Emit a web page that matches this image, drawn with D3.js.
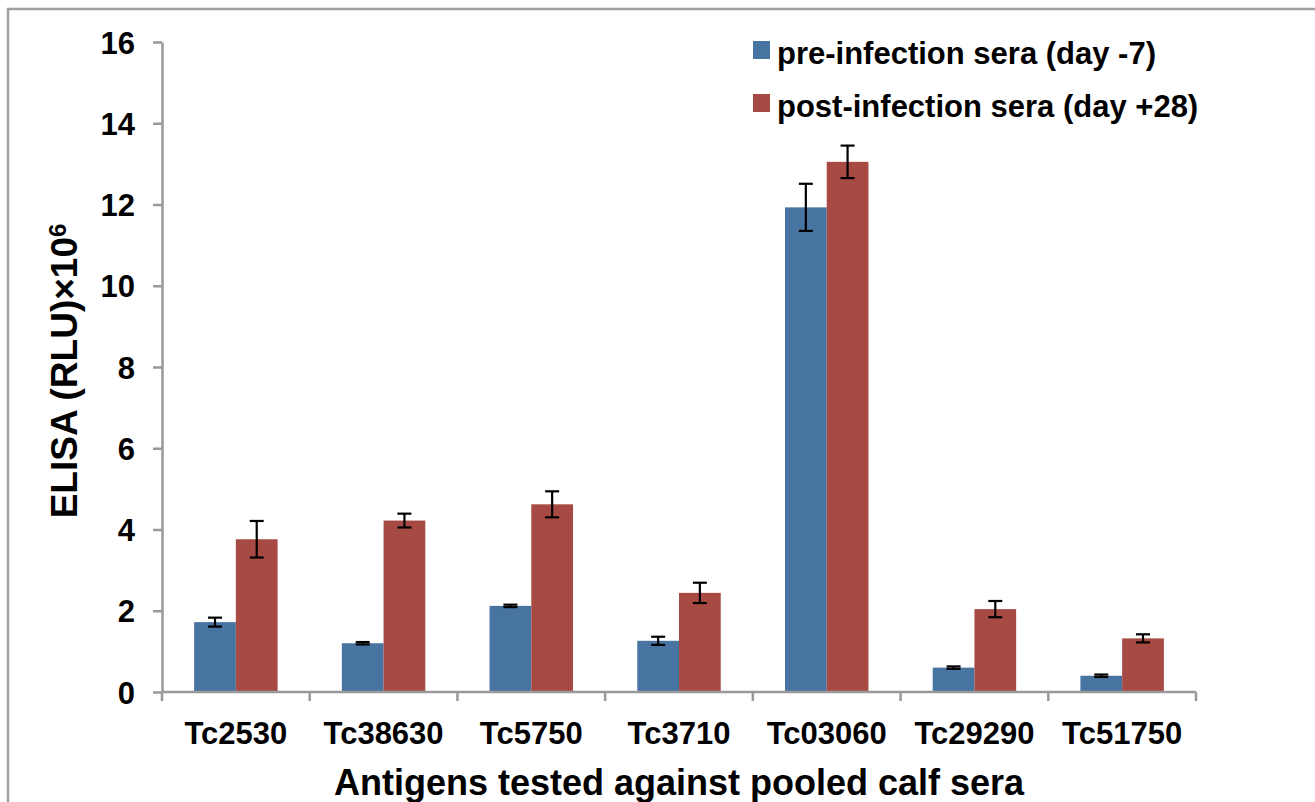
<!DOCTYPE html>
<html>
<head>
<meta charset="utf-8">
<script src="https://cdn.jsdelivr.net/npm/d3@7"></script>
<style>
  body { margin: 0; background: #fff; }
  text { font-family: "Liberation Sans", Arial, sans-serif; font-weight: bold; fill: #000; }
</style>
</head>
<body>
<div id="chart"></div>
<script>
// =======================
// Data
// =======================
const antigens = ["Tc2530", "Tc38630", "Tc5750", "Tc3710", "Tc03060", "Tc29290", "Tc51750"];
const preValues = [1.72, 1.20, 2.12, 1.26, 11.93, 0.60, 0.40];
const preErrors = [0.11, 0.03, 0.03, 0.10, 0.58, 0.03, 0.03];
const postValues = [3.76, 4.22, 4.62, 2.44, 13.05, 2.04, 1.32];
const postErrors = [0.45, 0.17, 0.32, 0.25, 0.40, 0.20, 0.10];
const seriesNames = ["pre-infection sera (day -7)", "post-infection sera (day +28)"];
const seriesColors = ["#4874a2", "#a84a44"];
const yTicks = [0, 2, 4, 6, 8, 10, 12, 14, 16];

// =======================
// Layout
// =======================
const width = 1315;
const height = 802;
const margin = { left: 162, right: 119, top: 42, bottom: 110 };

const svg = d3.select("#chart")
    .append("svg")
    .attr("width", width)
    .attr("height", height);

// outer frame
svg.append("rect")
    .attr("x", 8)
    .attr("y", 9)
    .attr("width", 1400)
    .attr("height", 900)
    .attr("fill", "none")
    .attr("stroke", "#a0a0a0")
    .attr("stroke-width", 2.5);

const x = d3.scaleBand()
    .domain(antigens)
    .range([margin.left, width - margin.right]);

const inner = d3.scaleBand()
    .domain([0, 1])
    .range([0, x.bandwidth()])
    .paddingInner(0)
    .paddingOuter(0.77);

const y = d3.scaleLinear()
    .domain([0, 16])
    .range([height - margin.bottom, margin.top]);

// =======================
// Bars + error bars
// =======================
const series = [
    { values: preValues, errors: preErrors },
    { values: postValues, errors: postErrors }
];

series.forEach((s, si) => {
    const g = svg.append("g");
    const rows = antigens.map((a, i) => ({ a, v: s.values[i], e: s.errors[i] }));

    g.selectAll("rect")
        .data(rows)
        .enter()
        .append("rect")
        .attr("x", d => x(d.a) + inner(si))
        .attr("y", d => y(d.v))
        .attr("width", inner.bandwidth())
        .attr("height", d => y(0) - y(d.v))
        .attr("fill", seriesColors[si]);
});

series.forEach((s, si) => {
    const g = svg.append("g").attr("stroke", "#000").attr("stroke-width", 2.2);
    antigens.forEach((a, i) => {
        const cx = x(a) + inner(si) + inner.bandwidth() / 2;
        const top = y(s.values[i] + s.errors[i]);
        const bot = y(s.values[i] - s.errors[i]);
        g.append("line").attr("x1", cx).attr("x2", cx).attr("y1", top).attr("y2", bot);
        g.append("line").attr("x1", cx - 7).attr("x2", cx + 7).attr("y1", top).attr("y2", top);
        g.append("line").attr("x1", cx - 7).attr("x2", cx + 7).attr("y1", bot).attr("y2", bot);
    });
});

// =======================
// Axes
// =======================
const yAxis = svg.append("g")
    .attr("transform", `translate(${margin.left},0)`)
    .call(d3.axisLeft(y).tickValues(yTicks).tickSize(9).tickPadding(18).tickSizeOuter(0));

yAxis.select(".domain").attr("stroke", "#999").attr("stroke-width", 2.5);
yAxis.selectAll(".tick line").attr("stroke", "#999").attr("stroke-width", 2.5);
yAxis.selectAll(".tick text").style("font-size", "31px").attr("dy", "0.36em");

const xAxisG = svg.append("g")
    .attr("transform", `translate(0,${y(0)})`);

xAxisG.append("line")
    .attr("x1", margin.left)
    .attr("x2", width - margin.right)
    .attr("stroke", "#999")
    .attr("stroke-width", 2.5);

const bounds = antigens.map(a => x(a)).concat([x(antigens[antigens.length - 1]) + x.bandwidth()]);
xAxisG.selectAll(".xtick")
    .data(bounds)
    .enter()
    .append("line")
    .attr("x1", d => d)
    .attr("x2", d => d)
    .attr("y1", 0)
    .attr("y2", 9)
    .attr("stroke", "#999")
    .attr("stroke-width", 2.5);

xAxisG.selectAll(".xlabel")
    .data(antigens)
    .enter()
    .append("text")
    .attr("x", d => x(d) + x.bandwidth() / 2)
    .attr("y", 52)
    .attr("text-anchor", "middle")
    .style("font-size", "31px")
    .text(d => d);

// axis titles
svg.append("text")
    .attr("x", (margin.left + width - margin.right) / 2)
    .attr("y", 795)
    .attr("text-anchor", "middle")
    .style("font-size", "36px")
    .text("Antigens tested against pooled calf sera");

const yTitle = svg.append("text")
    .attr("transform", `translate(77,${(y(0) + y(16)) / 2 + 4}) rotate(-90)`)
    .attr("text-anchor", "middle")
    .style("font-size", "37px");
yTitle.append("tspan").text("ELISA (RLU)×10");
yTitle.append("tspan").attr("dy", "-0.45em").style("font-size", "24px").text("6");

// =======================
// Legend
// =======================
const legend = svg.append("g").attr("transform", "translate(753,41)");
seriesNames.forEach((name, i) => {
    legend.append("rect")
        .attr("x", 0)
        .attr("y", i * 53)
        .attr("width", 17)
        .attr("height", 18)
        .attr("fill", seriesColors[i]);
    legend.append("text")
        .attr("x", 24)
        .attr("y", i * 53 + 23)
        .style("font-size", "31px")
        .text(name);
});
</script>
</body>
</html>
